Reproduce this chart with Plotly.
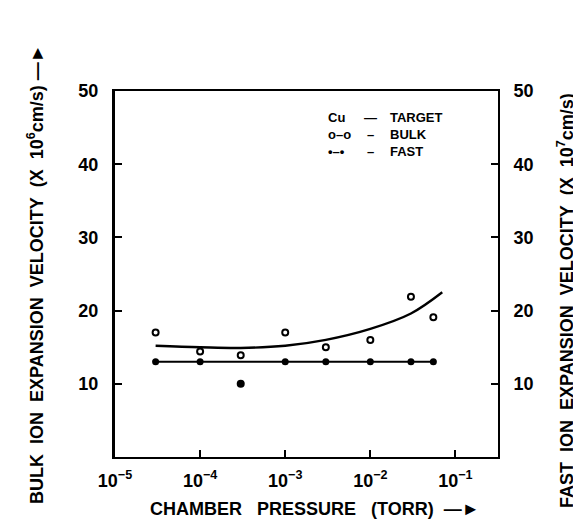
import plotly.graph_objects as go

# Data
pressure_bulk = [3e-5, 1e-4, 3e-4, 1e-3, 3e-3, 1e-2, 3e-2, 5.5e-2]
bulk_velocity = [17.0, 14.4, 13.9, 17.0, 15.0, 16.0, 21.9, 19.1]

pressure_fast = [3e-5, 1e-4, 1e-3, 3e-3, 1e-2, 3e-2, 5.5e-2]
fast_velocity = [13.0, 13.0, 13.0, 13.0, 13.0, 13.0, 13.0]
pressure_fast_outlier = [3e-4]
fast_velocity_outlier = [10.0]

fit_pressure = [3e-5, 1e-4, 3e-4, 1e-3, 3e-3, 1e-2, 3e-2, 7e-2]
fit_bulk = [15.2, 15.0, 14.9, 15.2, 16.0, 17.5, 19.6, 22.5]

x_tickvals = [1e-5, 1e-4, 1e-3, 1e-2, 1e-1]
x_ticktext = ["10<sup>−5</sup>", "10<sup>−4</sup>", "10<sup>−3</sup>", "10<sup>−2</sup>", "10<sup>−1</sup>"]
y_tickvals = [10, 20, 30, 40, 50]

legend_symbols = ["Cu", "o–o", "•–•"]
legend_dashes = ["—", "–", "–"]
legend_labels = ["TARGET", "BULK", "FAST"]

FONT = "Liberation Sans, Arial, sans-serif"

W, H = 581, 525
L, R, T, B = 107, 91, 83, 76
PW, PH = W - L - R, H - T - B


def px(x):
    return (x - L) / PW


def py(y):
    return (H - B - y) / PH


fig = go.Figure()

fig.add_trace(go.Scatter(x=fit_pressure, y=fit_bulk, mode="lines",
                         line=dict(color="black", width=2.4, shape="spline"),
                         showlegend=False, hoverinfo="skip"))
fig.add_trace(go.Scatter(x=pressure_bulk, y=bulk_velocity, mode="markers",
                         marker=dict(symbol="circle-open", size=6, color="black",
                                     line=dict(width=2, color="black")),
                         showlegend=False))
fig.add_trace(go.Scatter(x=pressure_fast, y=fast_velocity, mode="lines+markers",
                         line=dict(color="black", width=2),
                         marker=dict(symbol="circle", size=7, color="black"),
                         yaxis="y2", showlegend=False))
fig.add_trace(go.Scatter(x=pressure_fast_outlier, y=fast_velocity_outlier, mode="markers",
                         marker=dict(symbol="circle", size=8, color="black"),
                         yaxis="y2", showlegend=False))

tickfont = dict(size=18, family=FONT, weight="bold", color="black")

fig.update_layout(
    width=W, height=H,
    margin=dict(l=L, r=R, t=T, b=B),
    paper_bgcolor="white", plot_bgcolor="white",
    font=dict(family=FONT, color="black"),
    xaxis=dict(type="log", range=[-5, -0.5], tickvals=x_tickvals, ticktext=x_ticktext,
               ticks="inside", ticklen=7, tickwidth=1.5, tickcolor="black",
               showline=True, linecolor="black", linewidth=2, mirror=True,
               showgrid=False, zeroline=False, ticklabelstandoff=6,
               tickfont=dict(size=18, family=FONT, weight="bold", color="black")),
    yaxis=dict(range=[0, 50], tickvals=y_tickvals,
               ticks="inside", ticklen=7, tickwidth=2, tickcolor="black",
               showline=True, linecolor="black", linewidth=3,
               showgrid=False, zeroline=False, tickfont=tickfont, ticklabelstandoff=10),
    yaxis2=dict(range=[0, 50], tickvals=y_tickvals, overlaying="y", side="right",
                ticks="inside", ticklen=7, tickwidth=1.5, tickcolor="black",
                showline=True, linecolor="black", linewidth=2,
                showgrid=False, zeroline=False, tickfont=tickfont, ticklabelstandoff=10),
)

title_font = dict(size=18, family=FONT, weight="bold", color="black")
sp = "&nbsp;&nbsp;"
annotations = [
    dict(text=f"BULK{sp}ION{sp}EXPANSION{sp}VELOCITY{sp}(X{sp}10<sup>6</sup>cm/s) —►",
         x=px(27), y=py(266), xref="paper", yref="paper", showarrow=False, textangle=-90,
         xanchor="center", yanchor="middle", font=title_font),
    dict(text=f"FAST{sp}ION{sp}EXPANSION{sp}VELOCITY{sp}(X{sp}10<sup>7</sup>cm/s)",
         x=px(557), y=py(293), xref="paper", yref="paper", showarrow=False, textangle=-90,
         xanchor="center", yanchor="middle", font=title_font),
    dict(text=f"CHAMBER{sp}&nbsp;PRESSURE{sp}&nbsp;(TORR){sp}—►",
         x=px(307), y=py(501), xref="paper", yref="paper", showarrow=False,
         xanchor="center", yanchor="middle", font=title_font),
]

leg_font = dict(size=13, family=FONT, weight="bold", color="black")
annotations.append(dict(text="<br>".join(legend_symbols), x=px(318), y=py(126),
                        xref="paper", yref="paper", showarrow=False, align="left",
                        xanchor="left", yanchor="middle", font=leg_font))
annotations.append(dict(text="<br>".join(legend_dashes), x=px(362), y=py(126),
                        xref="paper", yref="paper", showarrow=False, align="center",
                        xanchor="center", yanchor="middle", font=leg_font))
annotations.append(dict(text="<br>".join(legend_labels), x=px(380), y=py(126),
                        xref="paper", yref="paper", showarrow=False, align="left",
                        xanchor="left", yanchor="middle", font=leg_font))

fig.update_layout(annotations=annotations)

fig.write_html("out.html")
